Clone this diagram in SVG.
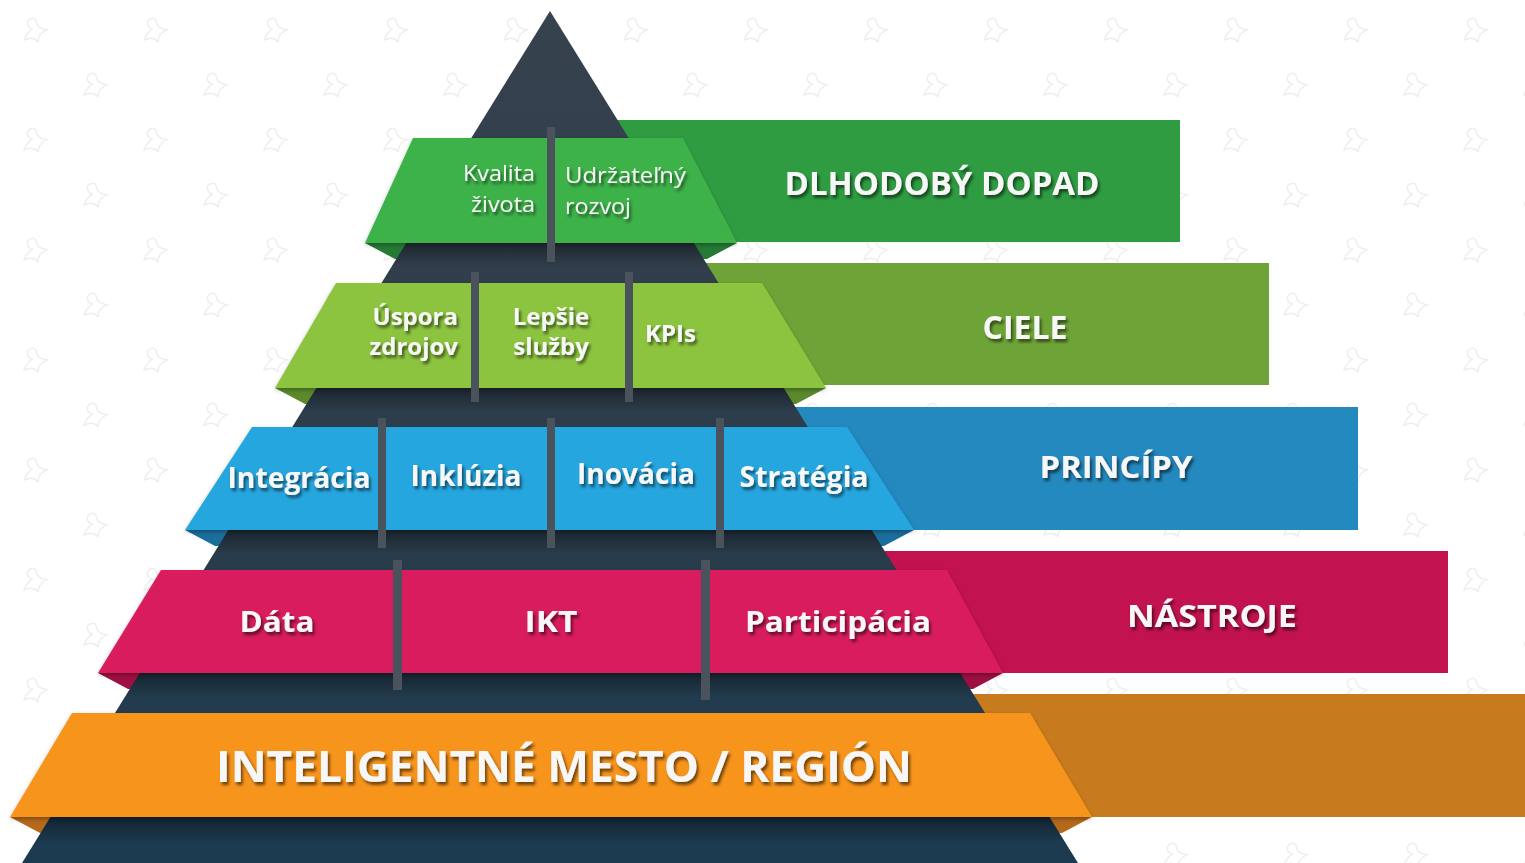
<svg xmlns="http://www.w3.org/2000/svg" width="1525" height="863" viewBox="0 0 1525 863">
  <defs>
    <style>
      .reg { font-family: "Open Sans", "Noto Sans", "Liberation Sans", sans-serif; font-weight: 400; fill: #f7f7f7; filter: url(#ts); }
      .bold { font-family: "Open Sans", "Noto Sans", "Liberation Sans", sans-serif; font-weight: 700; fill: #f7f7f7; filter: url(#ts); }
      .div { fill: #4a535c; }
      .motif { fill: none; stroke: #eeeeee; stroke-width: 1.5; stroke-linejoin: round; stroke-linecap: round; }
    </style>
    <filter id="ts" x="-10%" y="-30%" width="125%" height="170%">
      <feDropShadow dx="2" dy="3" stdDeviation="1.6" flood-color="#000" flood-opacity="0.55"/>
    </filter>
    <filter id="fs" x="-5%" y="-10%" width="110%" height="130%">
      <feDropShadow dx="0" dy="2" stdDeviation="2" flood-color="#000" flood-opacity="0.3"/>
    </filter>
    <linearGradient id="pyr" x1="0" y1="0" x2="0" y2="1">
      <stop offset="0" stop-color="#36424e"/>
      <stop offset="0.55" stop-color="#2c3c4a"/>
      <stop offset="1" stop-color="#1b3a50"/>
    </linearGradient>
    <linearGradient id="sh" x1="0" y1="0" x2="0" y2="1">
      <stop offset="0" stop-color="#000" stop-opacity="0.4"/>
      <stop offset="1" stop-color="#000" stop-opacity="0"/>
    </linearGradient>
    <clipPath id="pclip">
      <polygon points="550,11 1078,863 22,863"/>
    </clipPath>
    <pattern id="bg" x="0" y="0" width="120" height="110" patternUnits="userSpaceOnUse">
      <g class="motif" transform="translate(35,30) rotate(-20)">
        <path d="M0,-12 C-6,-12 -7,-4 -2,-2 C-8,0 -12,3 -14,6 C-8,5 -4,6 -1,12 C1,6 6,4 12,4 C6,1 3,-2 4,-6 C5,-10 3,-12 0,-12 Z"/>
      </g>
      <g class="motif" transform="translate(95,85) rotate(-20)">
        <path d="M0,-12 C-6,-12 -7,-4 -2,-2 C-8,0 -12,3 -14,6 C-8,5 -4,6 -1,12 C1,6 6,4 12,4 C6,1 3,-2 4,-6 C5,-10 3,-12 0,-12 Z"/>
      </g>
    </pattern>
  </defs>

  <rect id="background" x="0" y="0" width="1525" height="863" fill="#ffffff"/>
  <rect x="0" y="0" width="1525" height="863" fill="url(#bg)"/>

  <!-- right bars (behind pyramid) -->
  <g id="bars">
    <rect id="bar-dopad" x="540" y="120" width="640" height="122" fill="#2f9c42"/>
    <rect id="bar-ciele" x="540" y="263" width="729" height="122" fill="#6ea437"/>
    <rect id="bar-principy" x="540" y="407" width="818" height="123" fill="#2389be"/>
    <rect id="bar-nastroje" x="540" y="551" width="908" height="122" fill="#c2124f"/>
    <rect id="bar-mesto" x="540" y="694" width="985" height="123" fill="#c87b1e"/>
  </g>

  <!-- ribbon folds -->
  <g id="folds">
    <polygon points="365,243 415,243 415,259 395,259" fill="#257a35"/>
    <polygon points="737,243 687,243 687,259 707,259" fill="#257a35"/>
    <polygon points="275,388 325,388 325,404 305,404" fill="#5a8a2c"/>
    <polygon points="826,388 776,388 776,404 796,404" fill="#5a8a2c"/>
    <polygon points="185,530 235,530 235,546 215,546" fill="#1a6e9c"/>
    <polygon points="914,530 864,530 864,546 884,546" fill="#1a6e9c"/>
    <polygon points="98,673 148,673 148,689 128,689" fill="#9e0f42"/>
    <polygon points="1003,673 953,673 953,689 973,689" fill="#9e0f42"/>
    <polygon points="10,817 60,817 60,833 40,833" fill="#b5691a"/>
    <polygon points="1092,817 1042,817 1042,833 1062,833" fill="#b5691a"/>
  </g>

  <!-- pyramid -->
  <g id="pyramid">
    <polygon points="550,11 1078,863 22,863" fill="url(#pyr)"/>
    <g clip-path="url(#pclip)">
      <rect x="0" y="243" width="1525" height="24" fill="url(#sh)"/>
      <rect x="0" y="388" width="1525" height="24" fill="url(#sh)"/>
      <rect x="0" y="530" width="1525" height="24" fill="url(#sh)"/>
      <rect x="0" y="673" width="1525" height="24" fill="url(#sh)"/>
      <rect x="0" y="817" width="1525" height="26" fill="url(#sh)"/>
    </g>
  </g>

  <!-- band fronts -->
  <g id="band-dopad">
    <polygon points="413,138 683,138 737,243 365,243" fill="#3cb24a" filter="url(#fs)"/>
  </g>
  <g id="band-ciele">
    <polygon points="336,283 762,283 826,388 275,388" fill="#8cc43f" filter="url(#fs)"/>
  </g>
  <g id="band-principy">
    <polygon points="252,427 847,427 914,530 185,530" fill="#28a6df" filter="url(#fs)"/>
  </g>
  <g id="band-nastroje">
    <polygon points="161,570 947,570 1003,673 98,673" fill="#d81c5d" filter="url(#fs)"/>
  </g>
  <g id="band-mesto">
    <polygon points="72,713 1030,713 1092,817 10,817" fill="#f7941e" filter="url(#fs)"/>
  </g>

  <!-- dividers -->
  <g id="dividers">
    <rect class="div" x="547" y="127" width="8" height="135"/>
    <rect class="div" x="471" y="272" width="8" height="130"/>
    <rect class="div" x="625" y="272" width="8" height="130"/>
    <rect class="div" x="378" y="418" width="8" height="130"/>
    <rect class="div" x="547" y="418" width="8" height="130"/>
    <rect class="div" x="716" y="418" width="8" height="130"/>
    <rect class="div" x="393" y="560" width="9" height="130"/>
    <rect class="div" x="701" y="560" width="9" height="140"/>
  </g>

  <!-- texts -->
  <g id="labels-dopad">
    <text class="reg" font-size="22" text-anchor="end" textLength="72" lengthAdjust="spacingAndGlyphs" x="535" y="181">Kvalita</text>
    <text class="reg" font-size="22" text-anchor="end" textLength="64" lengthAdjust="spacingAndGlyphs" x="535" y="212">života</text>
    <text class="reg" font-size="22" textLength="121" lengthAdjust="spacingAndGlyphs" x="565" y="183">Udržateľný</text>
    <text class="reg" font-size="22" textLength="66" lengthAdjust="spacingAndGlyphs" x="565" y="214">rozvoj</text>
    <text class="bold" x="942" y="195" font-size="32" text-anchor="middle" textLength="315" lengthAdjust="spacingAndGlyphs">DLHODOBÝ DOPAD</text>
  </g>
  <g id="labels-ciele">
    <text class="bold" font-size="24" text-anchor="end"><tspan x="458" y="325">Úspora</tspan><tspan x="458" y="355">zdrojov</tspan></text>
    <text class="bold" font-size="24" text-anchor="middle"><tspan x="551" y="325">Lepšie</tspan><tspan x="551" y="355">služby</tspan></text>
    <text class="bold" x="645" y="342" font-size="24">KPIs</text>
    <text class="bold" x="1025" y="339" font-size="32" text-anchor="middle">CIELE</text>
  </g>
  <g id="labels-principy">
    <text class="bold" x="299" y="488" font-size="28" text-anchor="middle" textLength="143" lengthAdjust="spacingAndGlyphs">Integrácia</text>
    <text class="bold" x="466" y="486" font-size="28" text-anchor="middle" textLength="111" lengthAdjust="spacingAndGlyphs">Inklúzia</text>
    <text class="bold" x="636" y="484" font-size="28" text-anchor="middle" textLength="118" lengthAdjust="spacingAndGlyphs">Inovácia</text>
    <text class="bold" x="804" y="487" font-size="28" text-anchor="middle" textLength="129" lengthAdjust="spacingAndGlyphs">Stratégia</text>
    <text class="bold" x="1116" y="478" font-size="31" text-anchor="middle" textLength="153" lengthAdjust="spacingAndGlyphs">PRINCÍPY</text>
  </g>
  <g id="labels-nastroje">
    <text class="bold" x="277" y="632" font-size="29" text-anchor="middle" textLength="75" lengthAdjust="spacingAndGlyphs">Dáta</text>
    <text class="bold" x="551" y="632" font-size="29" text-anchor="middle" textLength="53" lengthAdjust="spacingAndGlyphs">IKT</text>
    <text class="bold" x="838" y="632" font-size="29" text-anchor="middle" textLength="186" lengthAdjust="spacingAndGlyphs">Participácia</text>
    <text class="bold" x="1212" y="627" font-size="31" text-anchor="middle" textLength="170" lengthAdjust="spacingAndGlyphs">NÁSTROJE</text>
  </g>
  <g id="labels-mesto">
    <text class="bold" x="564" y="782" font-size="43" text-anchor="middle" textLength="696" lengthAdjust="spacingAndGlyphs">INTELIGENTNÉ MESTO / REGIÓN</text>
  </g>
</svg>
